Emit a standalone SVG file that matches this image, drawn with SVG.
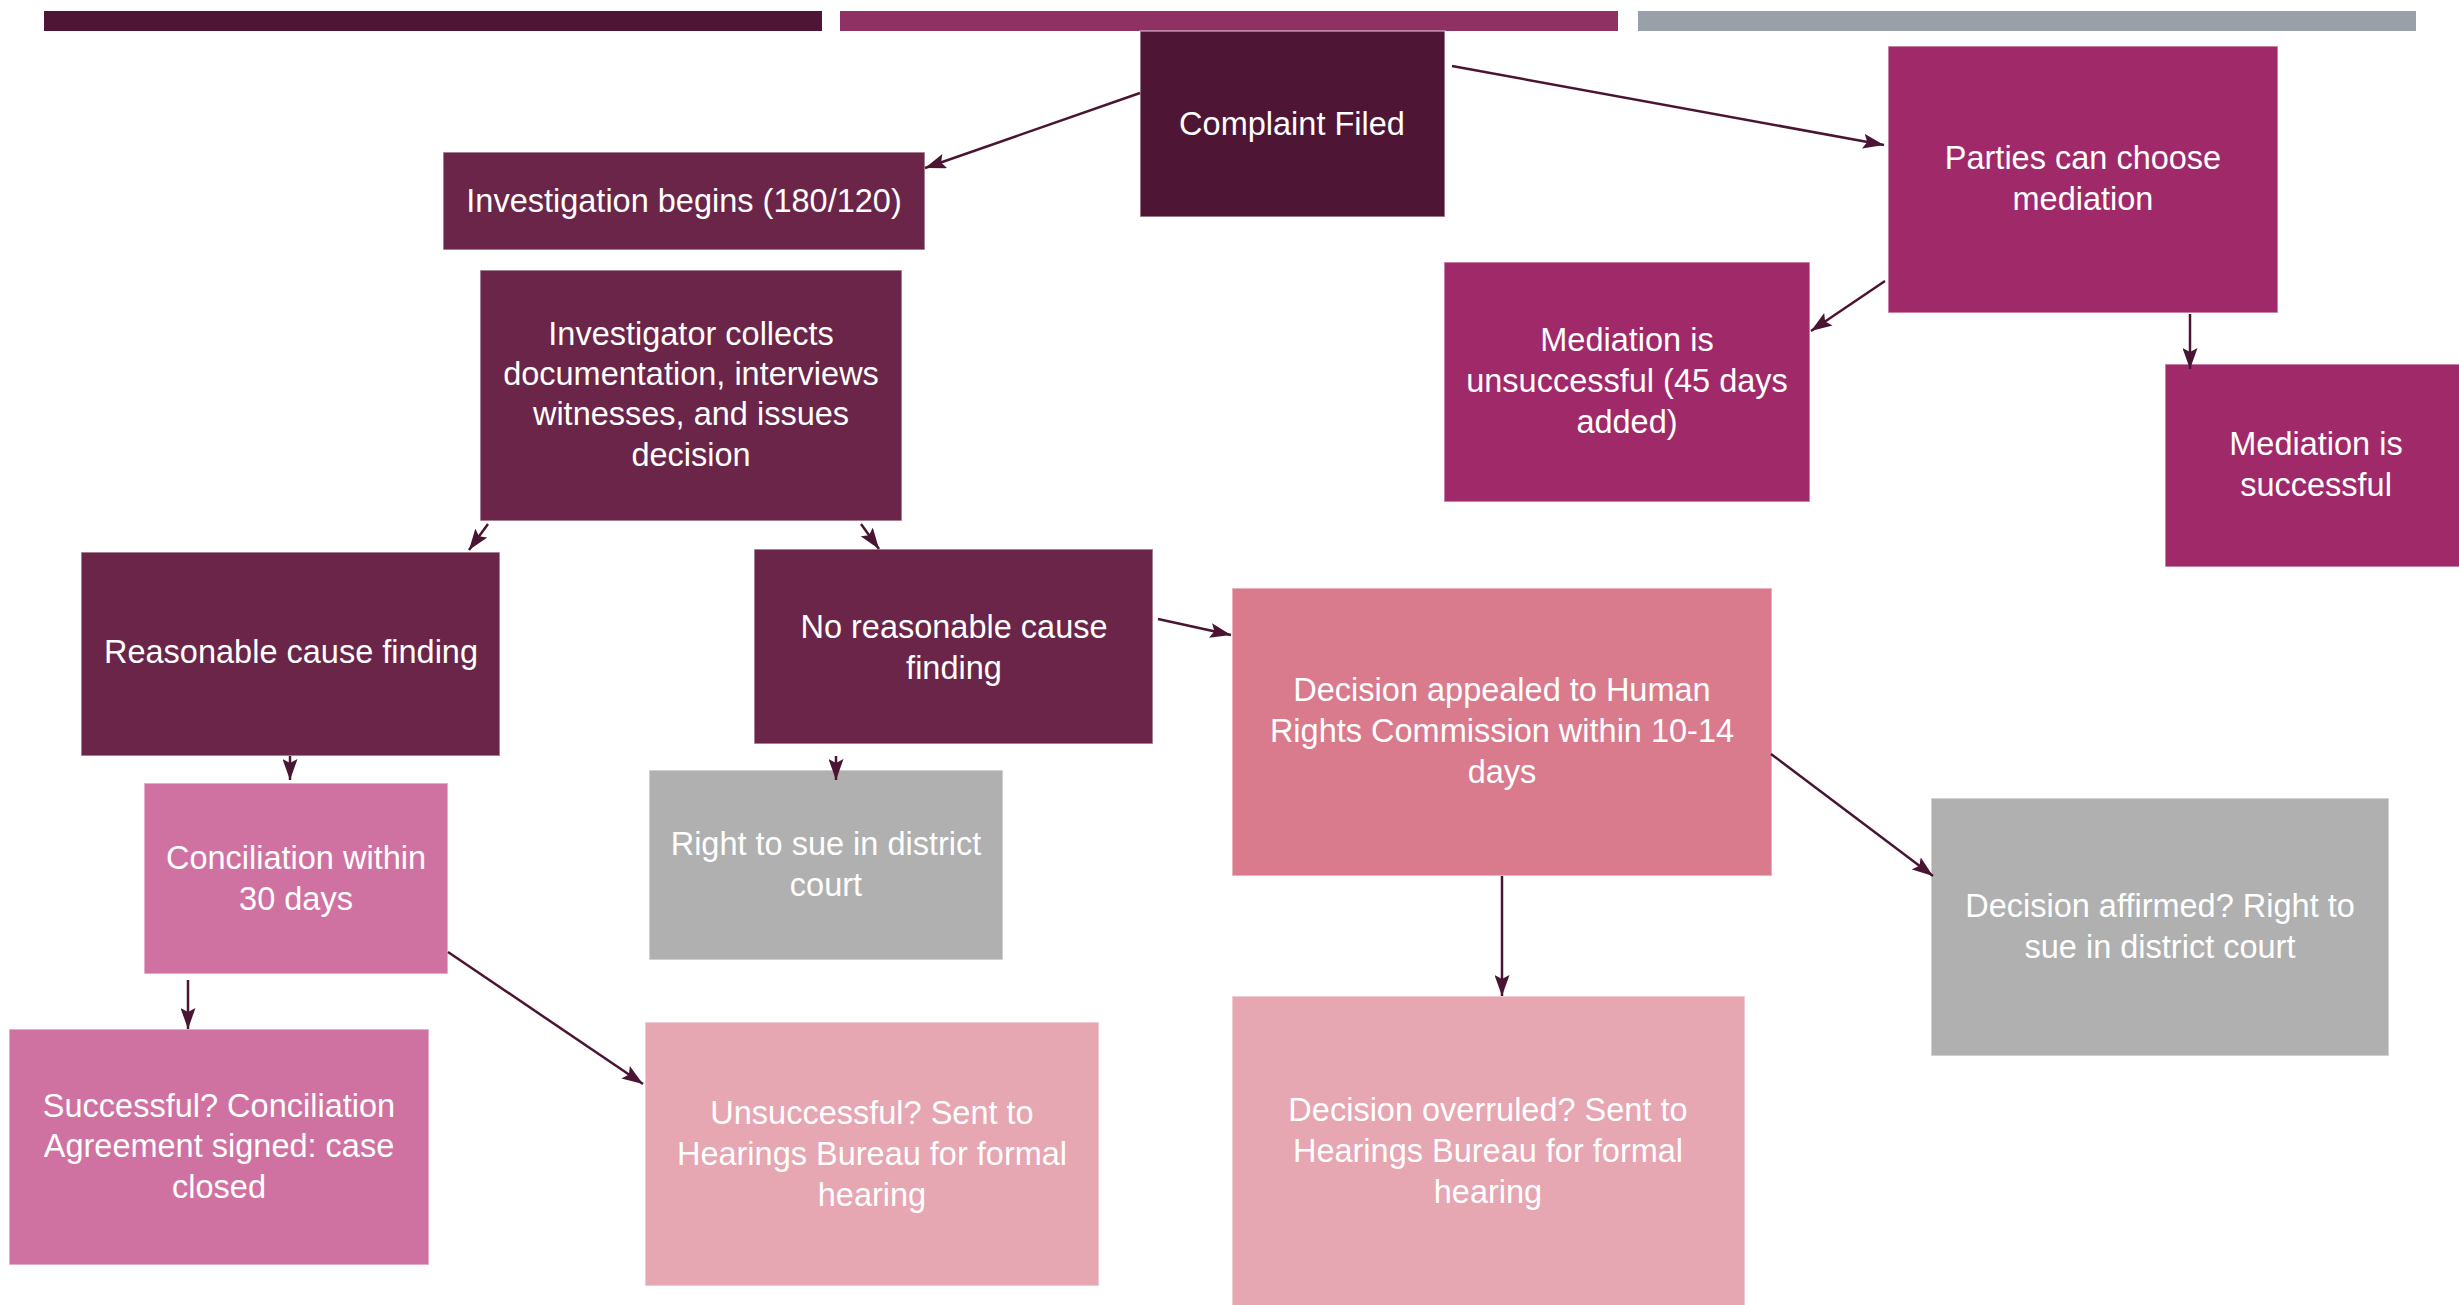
<svg xmlns="http://www.w3.org/2000/svg" width="2459" height="1305" viewBox="0 0 2459 1305">
<style>
.box{stroke:#ffffff;stroke-opacity:0.55;stroke-width:1.5}
.t{font-family:"Liberation Sans",Arial,sans-serif;font-size:32.5px;fill:#ffffff;text-anchor:middle}
.c{fill:none;stroke:#4A1433;stroke-width:2.5}
.d1{fill:#4E1634}.d2{fill:#6A2548}.m{fill:#A02969}.p{fill:#CF72A1}.r{fill:#D97B8C}.l{fill:#E6A6B2}.g{fill:#B0B0B0}
</style>
<defs>
<marker id="ah" markerUnits="userSpaceOnUse" markerWidth="23" markerHeight="15" refX="21" refY="7.5" orient="auto">
<path d="M0,0 L21,7.5 L0,15 L4,7.5 z" fill="#4A1433"/>
</marker>
</defs>
<g id="bars">
<rect x="44" y="11" width="778" height="20" fill="#4E1634"/>
<rect x="840" y="11" width="778" height="20" fill="#8F3163"/>
<rect x="1638" y="11" width="778" height="20" fill="#99A0A8"/>
</g>
<g id="complaint"><rect class="box d1" x="1140" y="31" width="305" height="186"/><text class="t" x="1292" y="135">Complaint Filed</text></g>
<g id="investigation"><rect class="box d2" x="443" y="152" width="482" height="98"/><text class="t" x="684" y="212">Investigation begins (180/120)</text></g>
<g id="investigator"><rect class="box d2" x="480" y="270" width="422" height="251"/>
<text class="t" x="691" y="345">Investigator collects</text><text class="t" x="691" y="385">documentation, interviews</text><text class="t" x="691" y="425">witnesses, and issues</text><text class="t" x="691" y="466">decision</text></g>
<g id="reasonable"><rect class="box d2" x="81" y="552" width="419" height="204"/><text class="t" x="291" y="663">Reasonable cause finding</text></g>
<g id="noreasonable"><rect class="box d2" x="754" y="549" width="399" height="195"/><text class="t" x="954" y="638">No reasonable cause</text><text class="t" x="954" y="679">finding</text></g>
<g id="righttosue"><rect class="box g" x="649" y="770" width="354" height="190"/><text class="t" x="826" y="855">Right to sue in district</text><text class="t" x="826" y="896">court</text></g>
<g id="conciliation"><rect class="box p" x="144" y="783" width="304" height="191"/><text class="t" x="296" y="869">Conciliation within</text><text class="t" x="296" y="910">30 days</text></g>
<g id="successful"><rect class="box p" x="9" y="1029" width="420" height="236"/><text class="t" x="219" y="1117">Successful? Conciliation</text><text class="t" x="219" y="1157">Agreement signed: case</text><text class="t" x="219" y="1198">closed</text></g>
<g id="unsuccessful"><rect class="box l" x="645" y="1022" width="454" height="264"/><text class="t" x="872" y="1124">Unsuccessful? Sent to</text><text class="t" x="872" y="1165">Hearings Bureau for formal</text><text class="t" x="872" y="1206">hearing</text></g>
<g id="appealed"><rect class="box r" x="1232" y="588" width="540" height="288"/><text class="t" x="1502" y="701">Decision appealed to Human</text><text class="t" x="1502" y="742">Rights Commission within 10-14</text><text class="t" x="1502" y="783">days</text></g>
<g id="affirmed"><rect class="box g" x="1931" y="798" width="458" height="258"/><text class="t" x="2160" y="917">Decision affirmed? Right to</text><text class="t" x="2160" y="958">sue in district court</text></g>
<g id="overruled"><rect class="box l" x="1232" y="996" width="513" height="312"/><text class="t" x="1488" y="1121">Decision overruled? Sent to</text><text class="t" x="1488" y="1162">Hearings Bureau for formal</text><text class="t" x="1488" y="1203">hearing</text></g>
<g id="parties"><rect class="box m" x="1888" y="46" width="390" height="267"/><text class="t" x="2083" y="169">Parties can choose</text><text class="t" x="2083" y="210">mediation</text></g>
<g id="medunsuccessful"><rect class="box m" x="1444" y="262" width="366" height="240"/><text class="t" x="1627" y="351">Mediation is</text><text class="t" x="1627" y="392">unsuccessful (45 days</text><text class="t" x="1627" y="433">added)</text></g>
<g id="medsuccessful"><rect class="box m" x="2165" y="364" width="302" height="203"/><text class="t" x="2316" y="455">Mediation is</text><text class="t" x="2316" y="496">successful</text></g>
<g id="connectors">
<line class="c" x1="1140" y1="93" x2="925" y2="168" marker-end="url(#ah)"/>
<line class="c" x1="1452" y1="66" x2="1884" y2="145" marker-end="url(#ah)"/>
<line class="c" x1="1885" y1="281" x2="1811" y2="331" marker-end="url(#ah)"/>
<line class="c" x1="2190" y1="314" x2="2190" y2="369" marker-end="url(#ah)"/>
<line class="c" x1="488" y1="524" x2="469" y2="550" marker-end="url(#ah)"/>
<line class="c" x1="861" y1="524" x2="879" y2="549" marker-end="url(#ah)"/>
<line class="c" x1="1158" y1="619" x2="1231" y2="635" marker-end="url(#ah)"/>
<line class="c" x1="290" y1="756" x2="290" y2="780" marker-end="url(#ah)"/>
<line class="c" x1="836" y1="756" x2="836" y2="780" marker-end="url(#ah)"/>
<line class="c" x1="188" y1="980" x2="188" y2="1029" marker-end="url(#ah)"/>
<line class="c" x1="448" y1="952" x2="643" y2="1084" marker-end="url(#ah)"/>
<line class="c" x1="1771" y1="754" x2="1933" y2="876" marker-end="url(#ah)"/>
<line class="c" x1="1502" y1="876" x2="1502" y2="996" marker-end="url(#ah)"/>
</g>
</svg>
